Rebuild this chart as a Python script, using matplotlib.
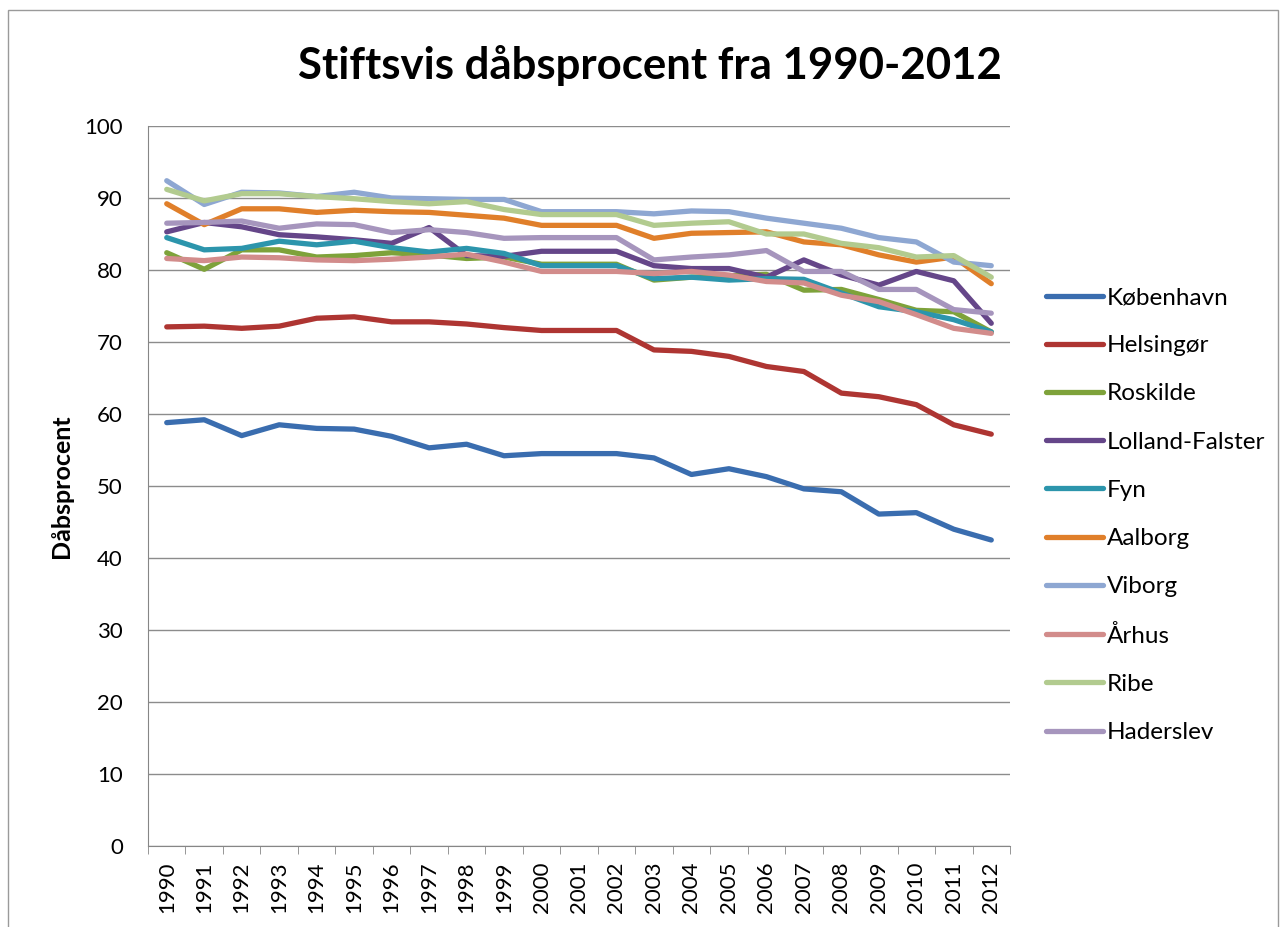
import matplotlib.pyplot as plt
from matplotlib.patches import Rectangle

years = list(range(1990, 2013))

koebenhavn = [58.8, 59.2, 57.0, 58.5, 58.0, 57.9, 56.9, 55.3, 55.8, 54.2, 54.5, 54.5,
              54.5, 53.9, 51.6, 52.4, 51.3, 49.6, 49.2, 46.1, 46.3, 44.0, 42.5]
helsingoer = [72.1, 72.2, 71.9, 72.2, 73.3, 73.5, 72.8, 72.8, 72.5, 72.0, 71.6, 71.6,
              71.6, 68.9, 68.7, 68.0, 66.6, 65.9, 62.9, 62.4, 61.3, 58.5, 57.2]
roskilde = [82.4, 80.1, 82.8, 82.8, 81.8, 82.0, 82.4, 82.1, 81.6, 81.8, 80.8, 80.8,
            80.8, 78.6, 79.0, 79.2, 79.4, 77.2, 77.3, 75.9, 74.4, 74.2, 71.4]
lolland_falster = [85.3, 86.6, 86.0, 84.9, 84.6, 84.2, 83.7, 85.9, 82.0, 81.9, 82.6, 82.6,
                   82.6, 80.6, 80.2, 80.2, 79.0, 81.4, 79.3, 77.9, 79.8, 78.5, 72.6]
fyn = [84.5, 82.8, 83.0, 84.0, 83.5, 84.0, 83.1, 82.5, 83.0, 82.3, 80.6, 80.6,
       80.6, 78.8, 79.0, 78.6, 78.8, 78.7, 76.8, 74.9, 74.2, 73.1, 71.4]
aalborg = [89.2, 86.3, 88.5, 88.5, 88.0, 88.3, 88.1, 88.0, 87.6, 87.2, 86.2, 86.2,
           86.2, 84.4, 85.1, 85.2, 85.3, 83.9, 83.5, 82.1, 81.1, 81.8, 78.1]
viborg = [92.4, 89.1, 90.8, 90.7, 90.2, 90.8, 90.0, 89.9, 89.8, 89.8, 88.1, 88.1,
          88.1, 87.8, 88.2, 88.1, 87.2, 86.5, 85.8, 84.5, 83.9, 81.1, 80.6]
aarhus = [81.6, 81.3, 81.8, 81.7, 81.4, 81.3, 81.5, 81.8, 82.2, 81.1, 79.8, 79.8,
          79.8, 79.5, 79.8, 79.3, 78.4, 78.2, 76.5, 75.6, 73.8, 71.9, 71.2]
ribe = [91.2, 89.6, 90.6, 90.6, 90.2, 89.9, 89.5, 89.2, 89.5, 88.4, 87.7, 87.7,
        87.7, 86.2, 86.5, 86.7, 85.0, 85.0, 83.7, 83.1, 81.8, 82.0, 79.0]
haderslev = [86.5, 86.6, 86.8, 85.8, 86.4, 86.3, 85.2, 85.6, 85.2, 84.4, 84.5, 84.5,
             84.5, 81.4, 81.8, 82.1, 82.7, 79.8, 79.8, 77.3, 77.3, 74.5, 74.0]

series = [
    ('København', koebenhavn, '#3A6DAF'),
    ('Helsingør', helsingoer, '#AE3532'),
    ('Roskilde', roskilde, '#7EA23A'),
    ('Lolland-Falster', lolland_falster, '#654689'),
    ('Fyn', fyn, '#2C95AC'),
    ('Aalborg', aalborg, '#E07F2A'),
    ('Viborg', viborg, '#8EA7D2'),
    ('Århus', aarhus, '#D28C8B'),
    ('Ribe', ribe, '#B2CB8F'),
    ('Haderslev', haderslev, '#A695BD'),
]

plt.rcParams['font.family'] = ['Lato', 'DejaVu Sans']

fig = plt.figure(figsize=(12.84, 9.27), dpi=100)
ax = fig.add_axes([148 / 1284, 1 - 846 / 927, (1010 - 148) / 1284, (846 - 126) / 927])

# chart frame
fig.patches.append(Rectangle((8 / 1284, -0.01), 1270 / 1284, 1 - 10 / 927 + 0.01,
                             transform=fig.transFigure, fill=False,
                             edgecolor='#9a9a9a', linewidth=1))

x = list(range(len(years)))
for name, vals, col in series:
    ax.plot(x, vals, color=col, linewidth=3.8, label=name, solid_capstyle='round')

ax.set_xlim(-0.5, len(years) - 0.5)
ax.set_ylim(0, 100)
ax.set_yticks(range(0, 101, 10))
ax.set_xticks(x)
ax.set_xticklabels([str(y) for y in years], rotation=90, fontsize=16)
ax.set_xticks([i - 0.5 for i in range(len(years) + 1)], minor=True)
ax.tick_params(axis='x', which='major', length=0, pad=11)
ax.tick_params(axis='x', which='minor', length=6, color='#868686')
ax.tick_params(axis='y', length=0, labelsize=16, pad=18)
ax.grid(axis='y', color='#8c8c8c', linewidth=1)
ax.set_axisbelow(True)
for s in ['top', 'right']:
    ax.spines[s].set_visible(False)
ax.spines['left'].set_color('#868686')
ax.spines['bottom'].set_color('#868686')

ax.set_ylabel('Dåbsprocent', fontsize=18, fontweight='bold', labelpad=8)

fig.text(650 / 1284, 1 - 65 / 927, 'Stiftsvis dåbsprocent fra 1990-2012',
         ha='center', va='center', fontsize=31.5, fontweight='bold')

ax.legend(loc='upper left', bbox_to_anchor=(1046 / 1284, 1 - 287 / 927),
          bbox_transform=fig.transFigure,
          frameon=False, fontsize=17.5, handlelength=2.35, labelspacing=1.12,
          handletextpad=0.15, borderaxespad=0, borderpad=0)

fig.savefig('out.png', dpi=100)
